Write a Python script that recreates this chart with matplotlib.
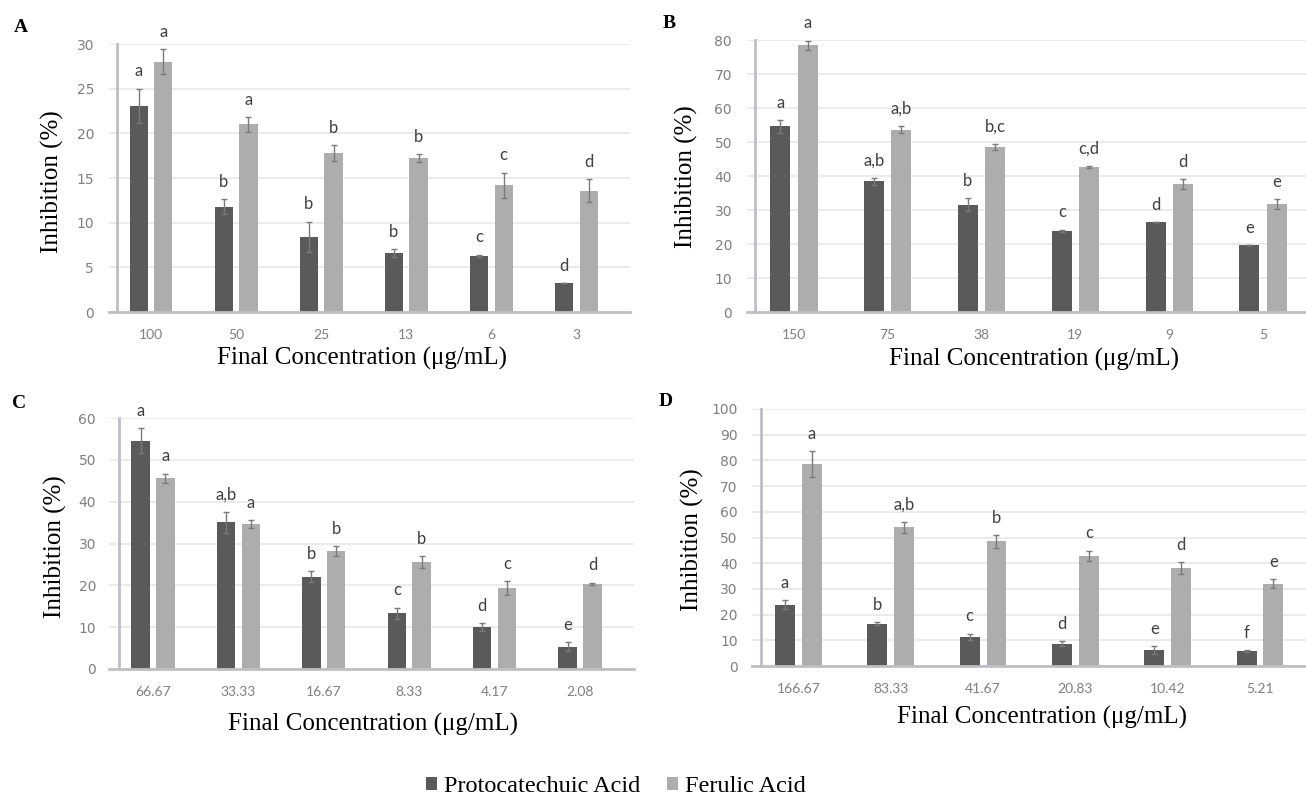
import numpy as np
import matplotlib
matplotlib.use('Agg')
import matplotlib.pyplot as plt
from matplotlib.patches import Patch

# panel A
conc_a = ['100', '50', '25', '13', '6', '3']
pca_a = [23.1, 11.8, 8.4, 6.6, 6.3, 3.2]
pca_a_err = [1.9, 0.8, 1.7, 0.4, 0.1, 0.0]
fa_a = [28.0, 21.0, 17.8, 17.2, 14.2, 13.6]
fa_a_err = [1.4, 0.8, 0.85, 0.45, 1.4, 1.3]
pca_a_sig = ['a', 'b', 'b', 'b', 'c', 'd']
fa_a_sig = ['a', 'a', 'b', 'b', 'c', 'd']

# panel B
conc_b = ['150', '75', '38', '19', '9', '5']
pca_b = [54.6, 38.4, 31.6, 23.9, 26.4, 19.6]
pca_b_err = [1.9, 0.9, 1.8, 0.3, 0.0, 0.0]
fa_b = [78.4, 53.6, 48.5, 42.6, 37.6, 31.7]
fa_b_err = [1.4, 1.0, 1.0, 0.3, 1.5, 1.4]
pca_b_sig = ['a', 'a,b', 'b', 'c', 'd', 'e']
fa_b_sig = ['a', 'a,b', 'b,c', 'c,d', 'd', 'e']

# panel C
conc_c = ['66.67', '33.33', '16.67', '8.33', '4.17', '2.08']
pca_c = [54.6, 35.1, 22.1, 13.3, 10.1, 5.3]
pca_c_err = [2.9, 2.5, 1.3, 1.4, 0.9, 1.1]
fa_c = [45.6, 34.6, 28.2, 25.6, 19.3, 20.4]
fa_c_err = [1.1, 1.0, 1.1, 1.4, 1.7, 0.25]
pca_c_sig = ['a', 'a,b', 'b', 'c', 'd', 'e']
fa_c_sig = ['a', 'a', 'b', 'b', 'c', 'd']

# panel D
conc_d = ['166.67', '83.33', '41.67', '20.83', '10.42', '5.21']
pca_d = [23.9, 16.5, 11.4, 8.7, 6.1, 5.9]
pca_d_err = [1.7, 0.5, 1.2, 0.9, 1.6, 0.3]
fa_d = [78.5, 54.0, 48.5, 42.9, 38.0, 32.1]
fa_d_err = [5.0, 2.2, 2.5, 2.0, 2.3, 1.7]
pca_d_sig = ['a', 'b', 'c', 'd', 'e', 'f']
fa_d_sig = ['a', 'a,b', 'b', 'c', 'd', 'e']

series_names = ['Protocatechuic Acid', 'Ferulic Acid']

W, H = 1306, 798
DARK = '#5a5a5a'
LIGHT = '#adadad'
SERIF = ['Liberation Serif', 'DejaVu Serif']
SANS = ['Lato', 'DejaVu Sans']

fig = plt.figure(figsize=(W / 100, H / 100), dpi=100)


def fig_text(x, y, s, **kw):
    fig.text(x / W, 1 - y / H, s, **kw)


def panel(box, c0, step, spine_in, cats, dark, dark_err, light, light_err,
          dark_sig, light_sig, ymax, ystep):
    left, right, top, bottom = box
    ax = fig.add_axes([left / W, 1 - bottom / H, (right - left) / W, (bottom - top) / H])
    ax.set_xlim((left - c0) / step, (right - c0) / step)
    ax.set_ylim(0, ymax)
    x = np.arange(len(cats))
    off, w = 0.145, 0.215
    ekw = dict(ecolor='#7a7a7a', elinewidth=1, capsize=2.5, capthick=1)
    ax.bar(x - off, dark, w, color=DARK, yerr=dark_err, error_kw=ekw, zorder=2)
    ax.bar(x + off, light, w, color=LIGHT, yerr=light_err, error_kw=ekw, zorder=2)
    for xs, vals, errs, sigs in [(x - off, dark, dark_err, dark_sig),
                                 (x + off, light, light_err, light_sig)]:
        for xi, v, e, s in zip(xs, vals, errs, sigs):
            ax.annotate(s, (xi, v + e), xytext=(0, 12.5), textcoords='offset points',
                        ha='center', va='center', fontsize=12, color='#404040',
                        family=SANS, annotation_clip=False)
    ax.set_xticks(x)
    ax.set_xticklabels(cats)
    ax.set_yticks(np.arange(0, ymax + 0.1, ystep))
    ax.tick_params(length=0, labelsize=10, labelcolor='#7f7f7f')
    ax.tick_params(axis='x', pad=12.5)
    ax.tick_params(axis='y', pad=16.5)
    for lab in ax.get_xticklabels() + ax.get_yticklabels():
        lab.set_family(SANS)
    for sp in ['top', 'right']:
        ax.spines[sp].set_visible(False)
    for sp in ['left', 'bottom']:
        ax.spines[sp].set_color('#bcc0c4')
        ax.spines[sp].set_linewidth(2)
    ax.spines['left'].set_position(('outward', -spine_in * 0.72))
    ax.yaxis.grid(True, color='#e8e8e8', linewidth=1.2)
    ax.set_axisbelow(True)
    return ax


panel((109, 630, 44, 312), 151, 85.1, 8, conc_a, pca_a, pca_a_err, fa_a, fa_a_err,
      pca_a_sig, fa_a_sig, 30, 5)
panel((747, 1306, 40, 312), 794, 93.8, 8, conc_b, pca_b, pca_b_err, fa_b, fa_b_err,
      pca_b_sig, fa_b_sig, 80, 10)
panel((109, 634, 418, 669), 153, 85.4, 10, conc_c, pca_c, pca_c_err, fa_c, fa_c_err,
      pca_c_sig, fa_c_sig, 60, 10)
panel((752, 1306, 409, 666), 798.5, 92.3, 8.5, conc_d, pca_d, pca_d_err, fa_d, fa_d_err,
      pca_d_sig, fa_d_sig, 100, 10)

# axis titles and panel letters
xlab = 'Final Concentration (\u03bcg/mL)'
ylab = 'Inhibition (%)'
for x, y in [(362, 358), (1034, 359), (373, 724), (1042, 717)]:
    fig_text(x, y, xlab, ha='center', va='center', fontsize=18, family=SERIF)
for x, y in [(52, 182), (686, 177), (55, 547), (692, 540)]:
    fig_text(x, y, ylab, ha='center', va='center', fontsize=18, family=SERIF, rotation=90)
for x, y, s in [(21, 27, 'A'), (669, 23, 'B'), (19, 403, 'C'), (666, 402, 'D')]:
    fig_text(x, y, s, ha='center', va='center', fontsize=14, fontweight='bold', family=SERIF)

handles = [Patch(facecolor=DARK), Patch(facecolor=LIGHT)]
fig.legend(handles, series_names, loc='center', bbox_to_anchor=(616 / W, 1 - 787 / H),
           ncol=2, frameon=False, prop={'family': SERIF, 'size': 17.5},
           handlelength=0.45, handleheight=0.45, handletextpad=0.3, columnspacing=1.1)

fig.savefig('out.png', dpi=100)
